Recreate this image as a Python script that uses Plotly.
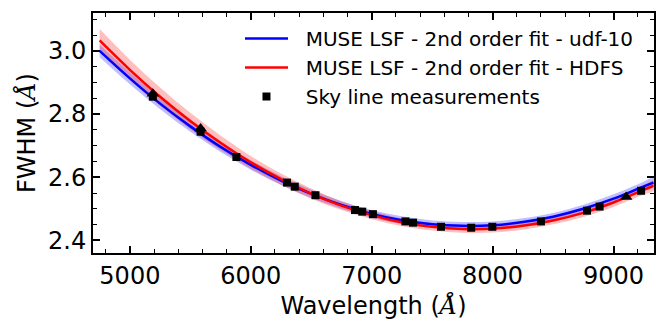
import plotly.graph_objects as go

# ---- data ----
wave = [4750, 5000, 5250, 5500, 5750, 6000, 6250, 6500, 6750, 7000,
        7250, 7500, 7750, 8000, 8250, 8500, 8750, 9000, 9250, 9330]
fwhm_udf10 = [3.000, 2.913, 2.833, 2.761, 2.696, 2.639, 2.589, 2.547, 2.512, 2.484,
              2.464, 2.451, 2.446, 2.448, 2.458, 2.475, 2.500, 2.532, 2.571, 2.583]
fwhm_hdfs = [3.033, 2.940, 2.855, 2.778, 2.709, 2.647, 2.594, 2.548, 2.510, 2.480,
             2.457, 2.443, 2.436, 2.437, 2.446, 2.463, 2.487, 2.520, 2.560, 2.573]
err_udf10 = [0.020, 0.019, 0.018, 0.017, 0.016, 0.015, 0.014, 0.013, 0.012, 0.012,
             0.012, 0.012, 0.012, 0.012, 0.012, 0.012, 0.013, 0.014, 0.015, 0.015]
err_hdfs = [0.036, 0.032, 0.029, 0.026, 0.023, 0.020, 0.018, 0.016, 0.014, 0.013,
            0.012, 0.012, 0.012, 0.012, 0.012, 0.012, 0.013, 0.014, 0.015, 0.016]

sky_wave = [5190, 5585, 5881, 6299, 6364, 6535, 6862, 6922, 7010, 7279,
            7342, 7573, 7823, 7998, 8400, 8781, 8885, 9228]
sky_fwhm = [2.855, 2.744, 2.664, 2.583, 2.570, 2.543, 2.496, 2.491, 2.483, 2.460,
            2.456, 2.443, 2.440, 2.443, 2.460, 2.494, 2.507, 2.557]
sky2_wave = [5190, 5585, 9105]
sky2_fwhm = [2.864, 2.754, 2.537]

x_ticks = [5000, 6000, 7000, 8000, 9000]
y_ticks = [2.4, 2.6, 2.8, 3.0]

FONT = "DejaVu Sans"
PAD = "\u00a0\u00a0"


def band(x, y, e):
    upper = [yi + ei for yi, ei in zip(y, e)]
    lower = [yi - ei for yi, ei in zip(y, e)]
    return list(x) + list(x)[::-1], upper + lower[::-1]


fig = go.Figure()

bx, by = band(wave, fwhm_udf10, err_udf10)
fig.add_trace(go.Scatter(x=bx, y=by, fill="toself", fillcolor="rgba(0,0,255,0.25)",
                         line=dict(width=0, shape="spline"), hoverinfo="skip",
                         showlegend=False, mode="lines"))
bx, by = band(wave, fwhm_hdfs, err_hdfs)
fig.add_trace(go.Scatter(x=bx, y=by, fill="toself", fillcolor="rgba(255,0,0,0.25)",
                         line=dict(width=0, shape="spline"), hoverinfo="skip",
                         showlegend=False, mode="lines"))

fig.add_trace(go.Scatter(x=wave, y=fwhm_udf10, mode="lines",
                         line=dict(color="#0000ff", width=2.5, shape="spline"),
                         name=PAD + "MUSE LSF - 2nd order fit - udf-10"))
fig.add_trace(go.Scatter(x=wave, y=fwhm_hdfs, mode="lines",
                         line=dict(color="#ff0000", width=2.5, shape="spline"),
                         name=PAD + "MUSE LSF - 2nd order fit - HDFS"))

fig.add_trace(go.Scatter(x=sky2_wave, y=sky2_fwhm, mode="markers",
                         marker=dict(symbol="triangle-up", size=11, color="black",
                                     line=dict(width=0)),
                         showlegend=False))
fig.add_trace(go.Scatter(x=sky_wave, y=sky_fwhm, mode="markers",
                         marker=dict(symbol="square", size=8, color="black",
                                     line=dict(width=0)),
                         name=PAD + "Sky line measurements"))

axis_common = dict(
    showline=True, linecolor="black", linewidth=2, mirror="allticks",
    ticks="inside", ticklen=7, tickwidth=1.5, tickcolor="black",
    showgrid=False, zeroline=False,
    tickfont=dict(family=FONT, size=24, color="black"),
)

fig.update_xaxes(
    range=[4695, 9335], tickvals=x_ticks, ticktext=[str(v) for v in x_ticks],
    minor=dict(ticks="inside", ticklen=4, tickwidth=1.2, tickcolor="black", dtick=200,
               tick0=4600, showgrid=False),
    title=dict(text="Wavelength (<span style=\"font-family:DejaVu Serif;font-style:italic\">Å</span>)",
               font=dict(family=FONT, size=24, color="black"), standoff=8),
    **axis_common,
)
fig.update_yaxes(
    range=[2.36, 3.12], tickvals=y_ticks, ticktext=[f"{v:.1f}" for v in y_ticks],
    minor=dict(ticks="inside", ticklen=4, tickwidth=1.2, tickcolor="black", dtick=0.05,
               tick0=2.35, showgrid=False),
    title=dict(text="FWHM (<span style=\"font-family:DejaVu Serif;font-style:italic\">Å</span>)",
               font=dict(family=FONT, size=24, color="black"), standoff=6),
    **axis_common,
)

fig.update_layout(
    width=659, height=320,
    margin=dict(l=93, r=3, t=13, b=67),
    paper_bgcolor="white", plot_bgcolor="white",
    font=dict(family=FONT, color="black"),
    legend=dict(x=0.262, y=0.975, xanchor="left", yanchor="top",
                bgcolor="rgba(0,0,0,0)", borderwidth=0,
                font=dict(family=FONT, size=20, color="black"),
                itemwidth=43, tracegroupgap=0),
)

fig.write_html("out.html")
